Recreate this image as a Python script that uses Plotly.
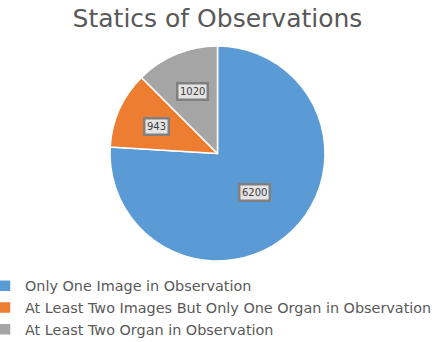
import math
import plotly.graph_objects as go

categories = [
    "Only One Image in Observation",
    "At Least Two Images But Only One Organ in Observation",
    "At Least Two Organ in Observation",
]
values = [6200, 943, 1020]
colors = ["#5B9BD5", "#ED7D31", "#A5A5A5"]
title_text = "Statics of Observations"

W, H = 435, 342
cx_px, cy_px, R = 217.5, 153.5, 107.5

fig = go.Figure(go.Pie(
    labels=categories,
    values=values,
    sort=False,
    direction="clockwise",
    rotation=0,
    marker=dict(colors=colors, line=dict(color="white", width=1.5)),
    textinfo="none",
    hoverinfo="label+value",
    domain=dict(x=[0, 1], y=[1 - (cy_px + R) / H, 1 - (cy_px - R) / H]),
))

total = sum(values)
annotations = []
cum = 0
for v in values:
    mid = (cum + v / 2) / total * 2 * math.pi
    cum += v
    frac = 0.5 if v / total > 0.5 else 0.62
    px = cx_px + frac * R * math.sin(mid)
    py = cy_px - frac * R * math.cos(mid)
    annotations.append(dict(
        x=px / W, y=1 - py / H, xref="paper", yref="paper",
        text=str(v), showarrow=False,
        font=dict(family="DejaVu Sans", size=10, color="#404040"),
        bgcolor="#E4E4E4", bordercolor="#808080", borderwidth=2.5, borderpad=1.5,
        xanchor="center", yanchor="middle",
    ))

fig.update_layout(
    width=W, height=H,
    margin=dict(l=0, r=0, t=0, b=0, autoexpand=False),
    paper_bgcolor="white",
    font=dict(family="DejaVu Sans", color="#595959"),
    title=dict(text=title_text, x=0.5, xanchor="center", y=1 - 18 / H, yanchor="middle",
               font=dict(family="DejaVu Sans", size=25, color="#595959")),
    showlegend=True,
    legend=dict(orientation="v", x=-15 / W, xanchor="left", y=1 - 270 / H, yanchor="top",
                font=dict(family="DejaVu Sans", size=14.4, color="#595959"),
                bgcolor="rgba(0,0,0,0)", itemclick=False, tracegroupgap=0),
    annotations=annotations,
)

fig.write_html("out.html")
